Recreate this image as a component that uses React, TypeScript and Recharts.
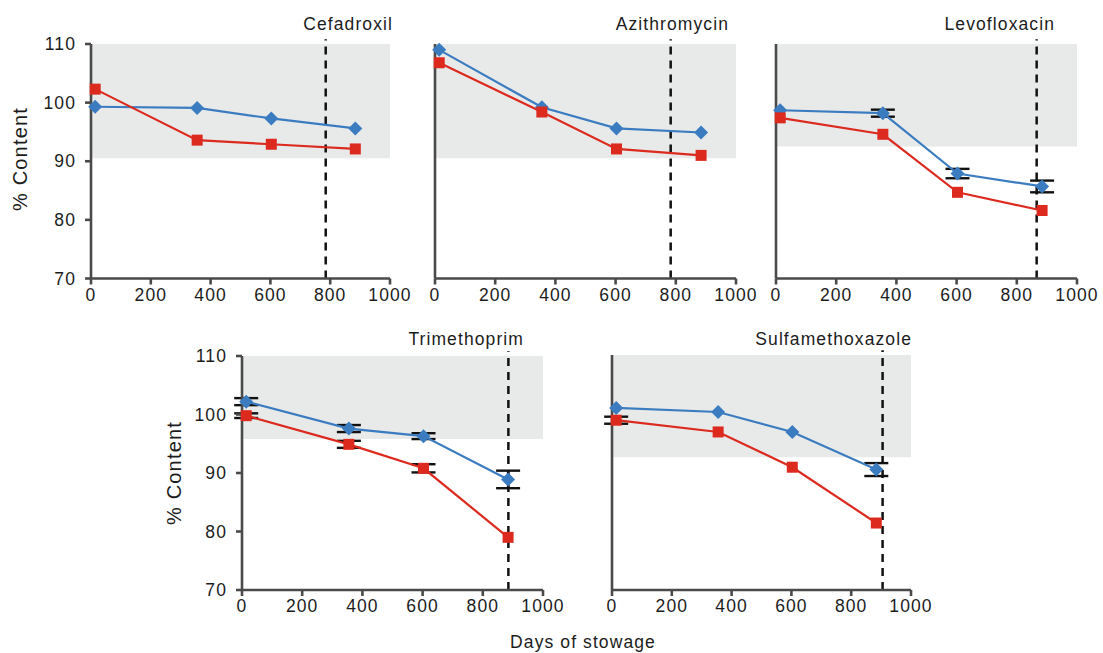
import React from "react";
import {
  ErrorBar,
  Line,
  LineChart,
  ReferenceArea,
  ReferenceLine,
  XAxis,
  YAxis,
} from "recharts";

const FONT = "'Liberation Sans', Arial, Helvetica, sans-serif";
const BLUE = "#3b7cc0";
const RED = "#dc2a1f";
const BAND = "#e8eaea";
const AXIS = "#4a4a4a";
const TEXT = "#1c1c1c";

// days on board at each sampling point
const DAYS = [14, 355, 603, 884];
const X_TICKS = [0, 200, 400, 600, 800, 1000];
const Y_TICKS = [70, 80, 90, 100, 110];

const cefadroxilBlue = [99.3, 99.1, 97.3, 95.6];
const cefadroxilRed = [102.3, 93.6, 92.9, 92.1];

const azithromycinBlue = [109.0, 99.2, 95.6, 94.9];
const azithromycinRed = [106.8, 98.4, 92.1, 91.0];

const levofloxacinBlue = [98.7, 98.2, 87.9, 85.7];
const levofloxacinRed = [97.4, 94.6, 84.7, 81.6];
const levofloxacinBlueErr = [0, 0.6, 0.8, 1.0];

const trimethoprimBlue = [102.2, 97.6, 96.3, 88.9];
const trimethoprimRed = [99.8, 94.9, 90.8, 79.0];
const trimethoprimBlueErr = [0.6, 0.6, 0.5, 1.5];
const trimethoprimRedErr = [0.4, 0.6, 0.7, 0];

const sulfaBlue = [101.0, 100.3, 96.9, 90.5];
const sulfaRed = [98.9, 96.9, 90.9, 81.4];
const sulfaBlueErr = [0, 0, 0, 1.1];
const sulfaRedErr = [0.6, 0, 0, 0];

const NO_ERR = [0, 0, 0, 0];

type PanelDef = {
  title: string;
  blue: number[];
  red: number[];
  blueErr: number[];
  redErr: number[];
  bandLow: number;
  expiry: number;
  rect: [number, number, number, number]; // x0, y0, x1, y1 of plot area
  yLabels: boolean;
  titleX: number;
  titleY: number;
};

const PANELS: PanelDef[] = [
  { title: "Cefadroxil", blue: cefadroxilBlue, red: cefadroxilRed, blueErr: NO_ERR, redErr: NO_ERR, bandLow: 90.5, expiry: 785, rect: [91, 43.5, 390, 278], yLabels: true, titleX: 393, titleY: 30 },
  { title: "Azithromycin", blue: azithromycinBlue, red: azithromycinRed, blueErr: NO_ERR, redErr: NO_ERR, bandLow: 90.5, expiry: 783, rect: [435, 43.5, 736, 278], yLabels: false, titleX: 729, titleY: 30 },
  { title: "Levofloxacin", blue: levofloxacinBlue, red: levofloxacinRed, blueErr: levofloxacinBlueErr, redErr: NO_ERR, bandLow: 92.5, expiry: 866, rect: [776, 43.5, 1077, 278], yLabels: false, titleX: 1055, titleY: 30 },
  { title: "Trimethoprim", blue: trimethoprimBlue, red: trimethoprimRed, blueErr: trimethoprimBlueErr, redErr: trimethoprimRedErr, bandLow: 95.8, expiry: 885, rect: [242, 356, 543, 590], yLabels: true, titleX: 524, titleY: 345 },
  { title: "Sulfamethoxazole", blue: sulfaBlue, red: sulfaRed, blueErr: sulfaBlueErr, redErr: sulfaRedErr, bandLow: 92.6, expiry: 905, rect: [612, 355, 911, 590], yLabels: false, titleX: 912, titleY: 345 },
];

const Diamond = (props: any) => {
  const { cx, cy, index } = props;
  if (cx == null || cy == null) return <g key={`d-${index}`} />;
  const r = 7;
  return (
    <path
      key={`d-${index}`}
      d={`M${cx} ${cy - r}L${cx + r} ${cy}L${cx} ${cy + r}L${cx - r} ${cy}Z`}
      fill={BLUE}
    />
  );
};

const Square = (props: any) => {
  const { cx, cy, index } = props;
  if (cx == null || cy == null) return <g key={`s-${index}`} />;
  const s = 11;
  return <rect key={`s-${index}`} x={cx - s / 2} y={cy - s / 2} width={s} height={s} fill={RED} />;
};

const tickStyle = { fontSize: 17.5, fill: TEXT, fontFamily: FONT, letterSpacing: 1.1 };
const axisLineStyle = { stroke: AXIS, strokeWidth: 2.6 };

function Panel({ p }: { p: PanelDef }) {
  const [x0, y0, x1, y1] = p.rect;
  const yAxisW = 75;
  const top = 12;
  const right = 30;
  const xAxisH = 42;
  const width = x1 - x0 + yAxisW + right;
  const height = y1 - y0 + top + xAxisH;

  const data = DAYS.map((day, i) => ({
    day,
    blue: p.blue[i],
    red: p.red[i],
    blueErr: p.blueErr[i],
    redErr: p.redErr[i],
  }));

  return (
    <div style={{ position: "absolute", left: x0 - yAxisW, top: y0 - top }}>
      <LineChart
        width={width}
        height={height}
        data={data}
        margin={{ top, right, bottom: 0, left: 0 }}
      >
        <ReferenceArea
          x1={0}
          x2={1000}
          y1={p.bandLow}
          y2={110}
          fill={BAND}
          fillOpacity={1}
          stroke="none"
        />
        <XAxis
          type="number"
          dataKey="day"
          domain={[0, 1000]}
          ticks={X_TICKS}
          height={xAxisH}
          axisLine={axisLineStyle}
          tickLine={axisLineStyle}
          tickSize={6}
          tickMargin={4}
          tick={tickStyle}
          interval={0}
        />
        <YAxis
          type="number"
          domain={[70, 110]}
          ticks={Y_TICKS}
          width={yAxisW}
          axisLine={axisLineStyle}
          tickLine={axisLineStyle}
          tickSize={6}
          tickMargin={9}
          tick={p.yLabels ? tickStyle : false}
          interval={0}
        />
        <ReferenceLine
          segment={[
            { x: p.expiry, y: 70 },
            { x: p.expiry, y: 110.8 },
          ]}
          stroke="#111"
          strokeWidth={2.5}
          strokeDasharray="8 6"
          ifOverflow="visible"
        />
        <Line
          dataKey="blue"
          stroke={BLUE}
          strokeWidth={2.2}
          dot={Diamond}
          activeDot={false}
          isAnimationActive={false}
        >
          <ErrorBar dataKey="blueErr" direction="y" width={12} strokeWidth={2.4} stroke="#111" />
        </Line>
        <Line
          dataKey="red"
          stroke={RED}
          strokeWidth={2.2}
          dot={Square}
          activeDot={false}
          isAnimationActive={false}
        >
          <ErrorBar dataKey="redErr" direction="y" width={12} strokeWidth={2.4} stroke="#111" />
        </Line>
      </LineChart>
    </div>
  );
}

export default function App() {
  return (
    <div
      style={{
        position: "absolute",
        left: 0,
        top: 0,
        width: 1103,
        height: 653,
        background: "#fff",
        overflow: "hidden",
      }}
    >
      {PANELS.map((p) => (
        <Panel key={p.title} p={p} />
      ))}
      <svg
        width={1103}
        height={653}
        style={{ position: "absolute", left: 0, top: 0, pointerEvents: "none" }}
      >
        <g fontFamily={FONT} fontSize={17.5} fill={TEXT} letterSpacing={1.1}>
          {PANELS.map((p) => (
            <text key={p.title} x={p.titleX} y={p.titleY} textAnchor="end">
              {p.title}
            </text>
          ))}
          <text x={27} y={159} fontSize={20} letterSpacing={1.2} textAnchor="middle" transform="rotate(-90 27 159)">
            % Content
          </text>
          <text x={181} y={473} fontSize={20} letterSpacing={1.2} textAnchor="middle" transform="rotate(-90 181 473)">
            % Content
          </text>
          <text x={583} y={648} textAnchor="middle">
            Days of stowage
          </text>
        </g>
      </svg>
    </div>
  );
}
